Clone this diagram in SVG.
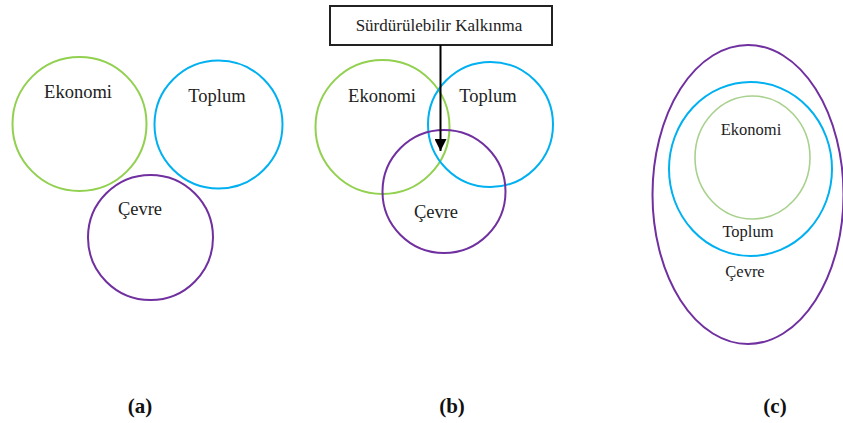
<svg xmlns="http://www.w3.org/2000/svg" width="843" height="423" viewBox="0 0 843 423">
<style>
text{font-family:'Liberation Serif','DejaVu Serif','Times New Roman',serif;fill:#222;text-anchor:middle}
.l{font-size:18.5px}
.s{font-size:16.5px}
.cap{font-size:21px;font-weight:bold;fill:#111}
.g{fill:none;stroke:#92d050;stroke-width:2}
.b{fill:none;stroke:#00b0f0;stroke-width:2}
.p{fill:none;stroke:#7030a0;stroke-width:2}
</style>
<defs>
<marker id="ah" viewBox="0 0 10 10" refX="10" refY="5" markerWidth="12" markerHeight="12" markerUnits="userSpaceOnUse" orient="auto">
<path d="M0,0 L10,5 L0,10 z" fill="#000"/>
</marker>
</defs>
<g id="panel-a" font-family="Liberation Serif, DejaVu Serif, serif">
<g id="a-ekonomi"><circle class="g" cx="79.5" cy="124" r="67"/><text class="l" x="78" y="98">Ekonomi</text></g>
<g id="a-toplum"><circle class="b" cx="218.5" cy="124.5" r="64"/><text class="l" x="217" y="102">Toplum</text></g>
<g id="a-cevre"><circle class="p" cx="150.5" cy="237.5" r="62.5"/><text class="l" x="140" y="215">Çevre</text></g>
<text class="cap" x="140" y="413">(a)</text>
</g>
<g id="panel-b" font-family="Liberation Serif, DejaVu Serif, serif">
<g id="b-ekonomi"><circle class="g" cx="382.5" cy="127" r="67"/><text class="l" x="382" y="102">Ekonomi</text></g>
<g id="b-toplum"><circle class="b" cx="490.5" cy="124.5" r="62.5"/><text class="l" x="488" y="102">Toplum</text></g>
<g id="b-cevre"><circle class="p" cx="444" cy="191.5" r="61.5"/><text class="l" x="436" y="218">Çevre</text></g>
<g id="b-box"><rect x="330" y="6" width="222" height="39" fill="#fff" stroke="#222" stroke-width="2"/><text style="font-size:17px" x="439" y="31">Sürdürülebilir Kalkınma</text></g>
<text class="cap" x="452" y="413">(b)</text>
</g>
<g id="connectors">
<line x1="440.5" y1="45" x2="440.5" y2="151" stroke="#000" stroke-width="2" marker-end="url(#ah)"/>
</g>
<g id="panel-c" font-family="Liberation Serif, DejaVu Serif, serif">
<g id="c-cevre"><ellipse class="p" cx="748" cy="194.5" rx="95.5" ry="149.5"/><text class="s" x="745" y="277">Çevre</text></g>
<g id="c-toplum"><ellipse class="b" cx="750.5" cy="169" rx="81.5" ry="87"/><text class="s" x="748" y="237">Toplum</text></g>
<g id="c-ekonomi"><ellipse cx="752.5" cy="157.5" rx="57.5" ry="61.5" fill="none" stroke="#a9d18e" stroke-width="1.6"/><text class="s" x="751" y="135">Ekonomi</text></g>
<text class="cap" x="775" y="413">(c)</text>
</g>
</svg>
